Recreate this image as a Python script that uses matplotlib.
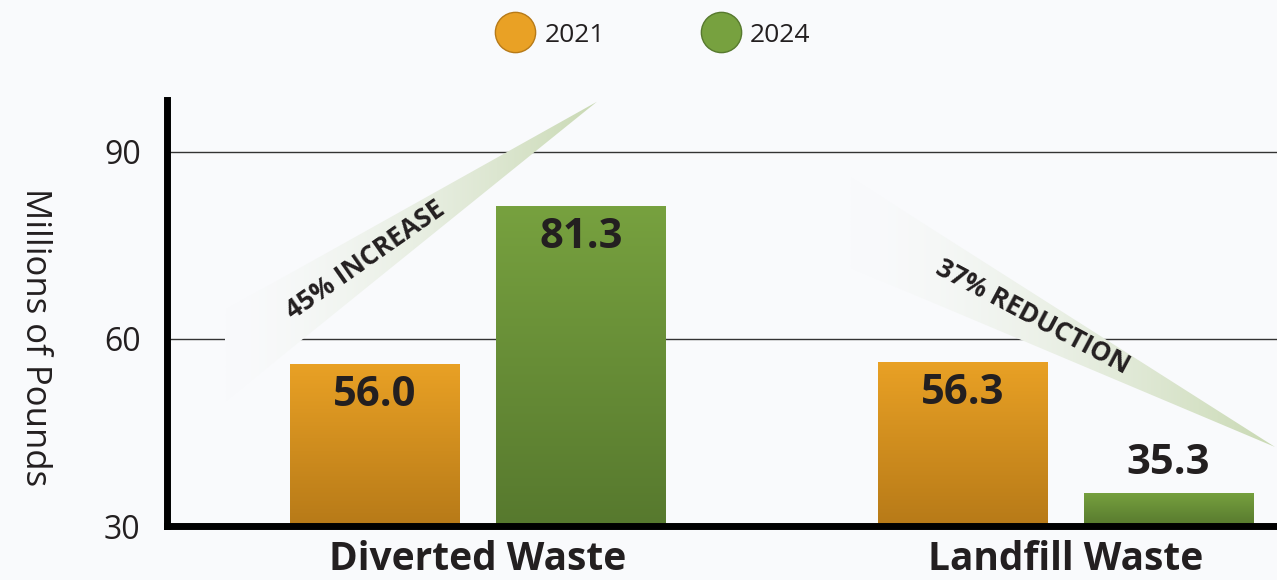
import numpy as np
import matplotlib.pyplot as plt
from matplotlib.lines import Line2D
from matplotlib.patches import Polygon
from matplotlib.colors import to_rgb

categories = ['Diverted Waste', 'Landfill Waste']
years = ['2021', '2024']
values_2021 = [56.0, 56.3]
values_2024 = [81.3, 35.3]
yticks = [30, 60, 90]
notes = ['45% INCREASE', '37% REDUCTION']

plt.rcParams['font.family'] = ['Open Sans', 'DejaVu Sans']
TXT = '#231f20'
BG = '#f9fafc'
ORANGE = ('#e9a125', '#b77a18')
GREEN = ('#77a13f', '#57792e')
WEDGE = '#c9d9b3'

fig = plt.figure(figsize=(12.77, 5.8), dpi=100, facecolor=BG)
ax = fig.add_axes([0.1308, 0.0931, 0.8692, 0.7345])
ax.set_facecolor('none')

XLIM = (-0.529, 1.360)
YLIM = (30, 98.3)
width = 0.2877
offset = 0.1753
x = np.arange(len(categories))


def gradient_fill(bar, colors):
    top, bottom = np.array(to_rgb(colors[0])), np.array(to_rgb(colors[1]))
    t = np.linspace(0, 1, 256)[:, None]
    img = (1 - t) * top + t * bottom
    x0 = bar.get_x()
    im = ax.imshow(img[:, None, :], extent=[x0, x0 + bar.get_width(), YLIM[0], bar.get_height()],
                   aspect='auto', origin='upper', zorder=2.1, interpolation='bilinear')
    im.set_clip_path(bar)


def wedge(verts, zorder=1.2):
    verts = np.array(verts)
    poly = Polygon(verts, closed=True, facecolor='none', edgecolor='none', zorder=zorder)
    ax.add_patch(poly)
    xb, xt = verts[0, 0], verts[2, 0]
    xs = np.linspace(0, 1, 300)
    t = (xs ** 1.6)[None, :, None]
    img = (1 - t) * np.array(to_rgb(BG)) + t * np.array(to_rgb(WEDGE))
    im = ax.imshow(img, extent=[min(xb, xt), max(xb, xt), verts[:, 1].min(), verts[:, 1].max()],
                   aspect='auto', origin='lower', zorder=zorder, interpolation='bilinear')
    im.set_clip_path(poly)


bars21 = ax.bar(x - offset, values_2021, width, color='none', zorder=2)
bars24 = ax.bar(x + offset, values_2024, width, color='none', zorder=2)
for b in bars21:
    gradient_fill(b, ORANGE)
for b in bars24:
    gradient_fill(b, GREEN)

# annotation wedges
wedge([(-0.4306, 64.65), (-0.4306, 49.89), (0.2026, 98.02)])
wedge([(0.6332, 85.99), (0.6298, 71.55), (1.3566, 42.67)])
ax.text(-0.1915, 72.67, notes[0], rotation=35, rotation_mode='anchor', ha='center', va='center',
        fontsize=19, fontweight='bold', color=TXT, zorder=3)
ax.text(0.9447, 63.53, notes[1], rotation=-28, rotation_mode='anchor', ha='center', va='center',
        fontsize=19, fontweight='bold', color=TXT, zorder=3)

# value labels
for bars in (bars21, bars24):
    for b in bars:
        v = b.get_height()
        dy = -23 if v - YLIM[0] > 15 else 21
        ax.annotate(f'{v:.1f}', (b.get_x() + b.get_width() / 2, v), xytext=(0, dy),
                    textcoords='offset points', ha='center', va='center',
                    fontsize=30, fontweight='bold', color=TXT, zorder=4)

ax.set_xlim(*XLIM)
ax.set_ylim(*YLIM)
ax.set_yticks(yticks)
ax.set_xticks(x)
ax.set_xticklabels(categories, fontsize=28, fontweight='bold', color=TXT)
ax.tick_params(axis='y', length=0, pad=19, labelsize=23, labelcolor=TXT)
ax.tick_params(axis='x', length=0, pad=10)
ax.yaxis.grid(True, color='#333333', linewidth=1.0)
ax.set_axisbelow(True)

for s in ('top', 'right'):
    ax.spines[s].set_visible(False)
for s in ('left', 'bottom'):
    ax.spines[s].set_linewidth(5)
    ax.spines[s].set_color('black')
    ax.spines[s].set_zorder(5)

ax.set_ylabel('Millions of Pounds', rotation=270, fontsize=25, color=TXT, va='center', ha='center')
ax.yaxis.set_label_coords(-0.119, 0.444)

handles = [Line2D([], [], marker='o', linestyle='none', markersize=29,
                  markerfacecolor=c[0], markeredgecolor=c[1], markeredgewidth=1.0)
           for c in (ORANGE, GREEN)]
fig.legend(handles, years, loc='center', bbox_to_anchor=(655 / 1277, 1 - 35 / 580), ncol=2,
           frameon=False, fontsize=19, labelcolor=TXT, handlelength=1.2, handletextpad=0.5,
           columnspacing=3.8)

fig.savefig('out.png', dpi=100, facecolor=BG)
